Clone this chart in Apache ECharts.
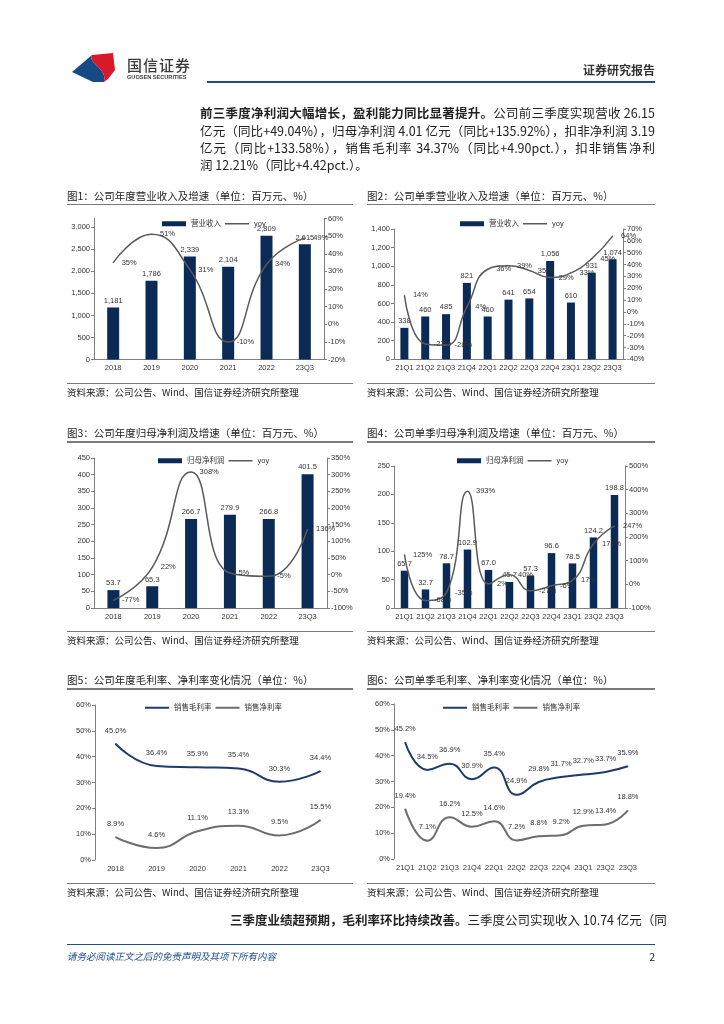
<!DOCTYPE html>
<html><head><meta charset="utf-8">
<script src="https://cdn.jsdelivr.net/npm/echarts@6/dist/echarts.min.js"></script>
<style>
body{margin:0;background:#fff;}
#page{position:relative;width:724px;height:1024px;overflow:hidden;font-family:"Noto Sans CJK SC","Noto Sans",sans-serif;color:#222;background:#fff;}
#chart{position:absolute;left:0;top:0;width:724px;height:1024px;}
.t{position:absolute;white-space:nowrap;line-height:1;}
.hl{position:absolute;height:1.5px;background:#7a7a7a;}
.title{font-size:10.5px;color:#222;}
.src{font-size:9.5px;color:#222;}
.para{position:absolute;font-size:12.5px;line-height:1;text-align:justify;text-align-last:justify;white-space:nowrap;color:#222;}
.para b{font-weight:700;}
</style></head>
<body><div id="page">
<div id="chart"></div>

<svg style="position:absolute;left:70px;top:50px" width="48" height="34" viewBox="0 0 48 34">
<path d="M2,22 L22,5 C17,13 38,18 34,32 L23,32 Z" fill="#164a85"/>
<path d="M22,5 L43,3 L45,20 L38,29 L34,32 C38,18 17,13 22,5 Z" fill="#d7192a"/>
</svg>
<div class="t" style="left:127px;top:57px;font-size:15px;font-weight:500;color:#3a3a3a;letter-spacing:1px">国信证券</div>
<div class="t" style="left:127px;top:74.5px;font-size:5.6px;font-weight:700;color:#3a3a3a;font-family:'Liberation Sans',sans-serif">GUOSEN SECURITIES</div>
<div class="t" style="right:69px;top:64px;font-size:12px;font-weight:700;color:#333">证券研究报告</div>
<div style="position:absolute;left:207px;top:81px;width:448px;height:2px;background:#1f4e8c"></div>

<div class="para" style="left:200px;width:455px;top:107px"><b>前三季度净利润大幅增长，盈利能力同比显著提升。</b>公司前三季度实现营收 26.15</div>
<div class="para" style="left:200px;width:455px;top:124.5px">亿元（同比+49.04%），归母净利润 4.01 亿元（同比+135.92%），扣非净利润 3.19</div>
<div class="para" style="left:200px;width:455px;top:142px">亿元（同比+133.58%），销售毛利率 34.37%（同比+4.90pct.），扣非销售净利</div>
<div class="para" style="left:200px;top:159px;text-align:left;text-align-last:left">润 12.21%（同比+4.42pct.）。</div>

<div class="t title" style="left:67px;top:190.5px">图1：公司年度营业收入及增速（单位：百万元、%）</div>
<div class="t title" style="left:367px;top:190.5px">图2：公司单季营业收入及增速（单位：百万元、%）</div>
<div class="hl" style="left:67px;top:203.5px;width:286px"></div>
<div class="hl" style="left:367px;top:203.5px;width:288px"></div>
<div class="hl" style="left:67px;top:382.5px;width:286px"></div>
<div class="hl" style="left:367px;top:382.5px;width:288px"></div>
<div class="t src" style="left:67px;top:388px">资料来源：公司公告、Wind、国信证券经济研究所整理</div>
<div class="t src" style="left:367px;top:388px">资料来源：公司公告、Wind、国信证券经济研究所整理</div>

<div class="t title" style="left:67px;top:427.5px">图3：公司年度归母净利润及增速（单位：百万元、%）</div>
<div class="t title" style="left:367px;top:427.5px">图4：公司单季归母净利润及增速（单位：百万元、%）</div>
<div class="hl" style="left:67px;top:441px;width:286px"></div>
<div class="hl" style="left:367px;top:441px;width:288px"></div>
<div class="hl" style="left:67px;top:630.5px;width:286px"></div>
<div class="hl" style="left:367px;top:630.5px;width:288px"></div>
<div class="t src" style="left:67px;top:636px">资料来源：公司公告、Wind、国信证券经济研究所整理</div>
<div class="t src" style="left:367px;top:636px">资料来源：公司公告、Wind、国信证券经济研究所整理</div>

<div class="t title" style="left:67px;top:674.5px">图5：公司年度毛利率、净利率变化情况（单位：%）</div>
<div class="t title" style="left:367px;top:674.5px">图6：公司单季毛利率、净利率变化情况（单位：%）</div>
<div class="hl" style="left:67px;top:688px;width:286px"></div>
<div class="hl" style="left:367px;top:688px;width:288px"></div>
<div class="hl" style="left:67px;top:882.5px;width:286px"></div>
<div class="hl" style="left:367px;top:882.5px;width:288px"></div>
<div class="t src" style="left:67px;top:888px">资料来源：公司公告、Wind、国信证券经济研究所整理</div>
<div class="t src" style="left:367px;top:888px">资料来源：公司公告、Wind、国信证券经济研究所整理</div>

<div class="para" style="left:230px;width:425px;top:914px"><b>三季度业绩超预期，毛利率环比持续改善。</b>三季度公司实现收入 10.74 亿元（同</div>
<div style="position:absolute;left:67px;top:944px;width:588px;height:1px;background:#1f4e8c"></div>
<div class="t" style="left:67px;top:952px;font-size:9.5px;font-style:italic;color:#1f4e8c">请务必阅读正文之后的免责声明及其项下所有内容</div>
<div class="t" style="right:69px;top:952px;font-size:10px;color:#222">2</div>
</div>
<script>
// ---- data ----
const years = ['2018','2019','2020','2021','2022','23Q3'];
const quarters = ['21Q1','21Q2','21Q3','21Q4','22Q1','22Q2','22Q3','22Q4','23Q1','23Q2','23Q3'];
const annualRevenue = [1181,1786,2339,2104,2809,2615];
const annualRevenueYoy = [35,51,31,-10,34,49];
const quarterRevenue = [338,460,485,821,460,641,654,1056,610,931,1074];
const quarterRevenueYoy = [14,-27,-28,4,36,39,35,29,33,45,64];
const annualProfit = [53.7,65.3,266.7,279.9,266.8,401.5];
const annualProfitYoy = [-77,22,308,5,-5,136];
const quarterProfit = [65.7,32.7,78.7,102.9,67.0,45.7,57.3,96.6,78.5,124.2,198.8];
const quarterProfitYoy = [125,-68,-35,393,2,40,-27,-6,17,171,247];
const annualGross = [45.0,36.4,35.9,35.4,30.3,34.4];
const annualNet = [8.9,4.6,11.1,13.3,9.5,15.5];
const quarterGross = [45.2,34.5,36.9,30.9,35.4,24.9,29.8,31.7,32.7,33.7,35.9];
const quarterNet = [19.4,7.1,16.2,12.5,14.6,7.2,8.8,9.2,12.9,13.4,18.8];

const FONT = 'Liberation Sans, Noto Sans CJK SC, sans-serif';
const BAR = '#0b2a56', GRAY = '#5a5a5a', BLUE = '#1f3b69', NET = '#6e6e6e', AX = '#7f7f7f', TXT = '#333';
const grids = [], xAxes = [], yAxes = [], series = [], legends = [];
const lineIcon = w => 'path://M0 0H24V' + w + 'H0Z';
const thousands = v => Number(v).toLocaleString('en-US');
const pct = v => v + '%';

function baseX(gi, cats, showLine){
  return {type:'category', gridIndex:gi, data:cats,
    axisLine:{show:showLine, lineStyle:{color:AX, width:1}}, axisTick:{show:false},
    axisLabel:{fontSize:7.5, color:TXT, margin:5, interval:0, fontFamily:FONT}};
}
function baseY(gi, pos, mn, mx, iv, fmt, showMax){
  return {type:'value', gridIndex:gi, position:pos, min:mn, max:mx, interval:iv,
    splitLine:{show:false}, axisLine:{show:true, lineStyle:{color:AX}},
    axisTick:{show:true, length:3, lineStyle:{color:AX}},
    axisLabel:{fontSize:7.5, color:TXT, margin:4, fontFamily:FONT, formatter:fmt, showMaxLabel:showMax}};
}
function addBarLine(c){
  const gi = grids.length;
  grids.push({left:c.g[0], top:c.g[1], width:c.g[2], height:c.g[3]});
  const xi = xAxes.length;
  xAxes.push(baseX(gi, c.cats, true));
  const yl = yAxes.length;
  yAxes.push(baseY(gi, 'left', c.l[0], c.l[1], c.l[2], c.lf, c.l[3]));
  yAxes.push(baseY(gi, 'right', c.r[0], c.r[1], c.r[2], pct, true));
  series.push({type:'bar', name:c.barName, xAxisIndex:xi, yAxisIndex:yl, data:c.bars, barWidth:c.bw,
    itemStyle:{color:BAR},
    label:{show:true, position:'top', distance:3, fontSize:7.5, color:TXT, fontFamily:FONT, formatter:p=>c.bf(p.value)}});
  series.push({type:'line', name:'yoy', xAxisIndex:xi, yAxisIndex:yl+1, data:c.yoy, smooth:0.5,
    symbol:'circle', symbolSize:1, itemStyle:{color:GRAY}, lineStyle:{color:GRAY, width:1.5},
    label:{show:true, position:'right', distance:8, fontSize:7.5, color:TXT, fontFamily:FONT, formatter:p=>p.value+'%'}});
  legends.push({left:c.lg[0], top:c.lg[1], itemWidth:24, itemHeight:5, itemGap:4, padding:0, selectedMode:false,
    textStyle:{fontSize:7.5, color:TXT, fontFamily:FONT},
    data:[{name:c.barName, icon:'rect'}, {name:'yoy', icon:lineIcon(1.5)}]});
}
function addLines(c){
  const gi = grids.length;
  grids.push({left:c.g[0], top:c.g[1], width:c.g[2], height:c.g[3]});
  const xi = xAxes.length;
  xAxes.push(baseX(gi, c.cats, false));
  const yi = yAxes.length;
  yAxes.push(baseY(gi, 'left', 0, 60, 10, pct, true));
  const lab = {show:true, position:'top', distance:9, fontSize:7.5, color:TXT, fontFamily:FONT, formatter:p=>p.value.toFixed(1)+'%'};
  series.push({type:'line', name:'销售毛利率', xAxisIndex:xi, yAxisIndex:yi, data:c.gross, smooth:0.5,
    symbol:'circle', symbolSize:1, itemStyle:{color:BLUE}, lineStyle:{color:BLUE, width:2}, label:lab});
  series.push({type:'line', name:'销售净利率', xAxisIndex:xi, yAxisIndex:yi, data:c.net, smooth:0.5,
    symbol:'circle', symbolSize:1, itemStyle:{color:NET}, lineStyle:{color:NET, width:2}, label:lab});
  legends.push({left:c.lg[0], top:c.lg[1], itemWidth:24, itemHeight:5, itemGap:4, padding:0, selectedMode:false,
    textStyle:{fontSize:7.5, color:TXT, fontFamily:FONT},
    data:[{name:'销售毛利率', icon:lineIcon(2)}, {name:'销售净利率', icon:lineIcon(2)}]});
}

addBarLine({g:[94,218.5,230,141], cats:years, bars:annualRevenue, barName:'营业收入', bw:12,
  bf:thousands, yoy:annualRevenueYoy, l:[0,3200,500,false], lf:thousands, r:[-20,60,10], lg:[162,220]});
addBarLine({g:[394,229,229,130.3], cats:quarters, bars:quarterRevenue, barName:'营业收入', bw:8,
  bf:thousands, yoy:quarterRevenueYoy, l:[0,1400,200,true], lf:thousands, r:[-40,70,10], lg:[460,220]});
addBarLine({g:[94,458,233,150], cats:years, bars:annualProfit, barName:'归母净利润', bw:12,
  bf:v=>v.toFixed(1), yoy:annualProfitYoy, l:[0,450,50,true], lf:v=>v, r:[-100,350,50], lg:[158,457]});
addBarLine({g:[394,466,231,142], cats:quarters, bars:quarterProfit, barName:'归母净利润', bw:7.5,
  bf:v=>v.toFixed(1), yoy:quarterProfitYoy, l:[0,250,50,true], lf:v=>v, r:[-100,500,100], lg:[457,457]});
addLines({g:[95,705,246,155], cats:years, gross:annualGross, net:annualNet, lg:[145,704]});
addLines({g:[394,704,245,155], cats:quarters, gross:quarterGross, net:quarterNet, lg:[443,704]});

const chart = echarts.init(document.getElementById('chart'));
chart.setOption({animation:false, textStyle:{fontFamily:FONT}, grid:grids, xAxis:xAxes, yAxis:yAxes, series:series, legend:legends});
</script>
</body></html>
